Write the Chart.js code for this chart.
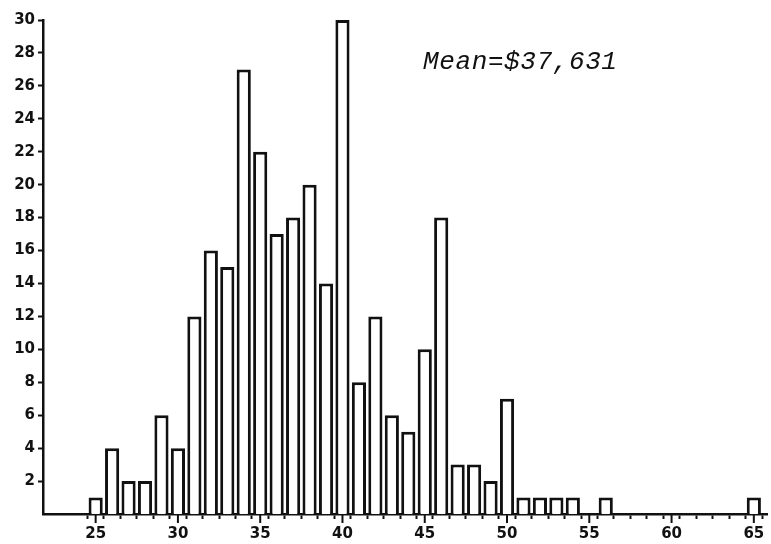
<!DOCTYPE html>
<html>
<head>
<meta charset="utf-8">
<script src="https://cdn.jsdelivr.net/npm/chart.js@4.4.1/dist/chart.umd.min.js"></script>
<style>
  html, body { margin: 0; padding: 0; background: #fff; }
  #wrap { width: 771px; height: 544px; position: relative; }
</style>
</head>
<body>
<div id="wrap"><canvas id="hist"></canvas></div>
<script>
// Salary bins (thousands of $) and number of people in each
const salaries = [25, 26, 27, 28, 29, 30, 31, 32, 33, 34, 35, 36, 37, 38, 39, 40,
                  41, 42, 43, 44, 45, 46, 47, 48, 49, 50, 51, 52, 53, 54, 56, 65];
const counts   = [1, 4, 2, 2, 6, 4, 12, 16, 15, 27, 22, 17, 18, 20, 14, 30,
                  8, 12, 6, 5, 10, 18, 3, 3, 2, 7, 1, 1, 1, 1, 1, 1];
const yTicks = [2, 4, 6, 8, 10, 12, 14, 16, 18, 20, 22, 24, 26, 28, 30];
const xLabels = [25, 30, 35, 40, 45, 50, 55, 60, 65];
const meanNote = { text: 'Mean=$37,631', x: 44.9, y: 27 };

const ink = '#111';
const tickFont = { family: 'DejaVu Sans', size: 15, weight: 'bold' };

// Longer marks under the labelled (every 5th) x ticks, plus the mean note
const extras = {
  id: 'extras',
  afterDraw(chart) {
    const { ctx, scales: { x, y } } = chart;
    ctx.save();
    ctx.strokeStyle = ink;
    ctx.lineWidth = 2;
    xLabels.forEach(v => {
      const px = x.getPixelForValue(v);
      ctx.beginPath();
      ctx.moveTo(px, y.bottom);
      ctx.lineTo(px, y.bottom + 9);
      ctx.stroke();
    });
    ctx.fillStyle = ink;
    ctx.font = 'italic 26px "Liberation Mono"';
    ctx.letterSpacing = '0.6px';
    ctx.textBaseline = 'alphabetic';
    ctx.fillText(meanNote.text, x.getPixelForValue(meanNote.x), y.getPixelForValue(meanNote.y));
    ctx.restore();
  }
};

new Chart(document.getElementById('hist'), {
  type: 'bar',
  data: {
    datasets: [{
      data: salaries.map((s, i) => ({ x: s, y: counts[i] })),
      backgroundColor: '#fff',
      borderColor: ink,
      borderWidth: 3,
      borderSkipped: 'start',
      barPercentage: 0.86,
      categoryPercentage: 1
    }]
  },
  options: {
    responsive: true,
    maintainAspectRatio: false,
    animation: false,
    layout: { padding: { top: 20, right: 4, left: 0, bottom: 0 } },
    plugins: { legend: { display: false }, tooltip: { enabled: false } },
    scales: {
      x: {
        type: 'linear',
        offset: false,
        min: 21.8,
        max: 65.8,
        afterFit: s => { s.height = 30; },
        afterBuildTicks: s => {
          s.ticks = [];
          for (let v = 25; v <= 65; v++) s.ticks.push({ value: v });
        },
        border: { display: true, color: ink, width: 2.5 },
        grid: { drawOnChartArea: false, drawTicks: true, tickLength: 5, tickColor: ink, tickWidth: 2 },
        ticks: {
          autoSkip: false,
          maxRotation: 0,
          padding: 6,
          color: ink,
          font: tickFont,
          callback: v => (xLabels.includes(v) ? String(v) : '')
        }
      },
      y: {
        min: 0,
        max: 30,
        afterFit: s => { s.width = 43; },
        afterBuildTicks: s => { s.ticks = yTicks.map(v => ({ value: v })); },
        border: { display: true, color: ink, width: 2.5 },
        grid: { drawOnChartArea: false, drawTicks: true, tickLength: 5, tickColor: ink, tickWidth: 2 },
        ticks: { padding: 3, color: ink, font: tickFont }
      }
    }
  },
  plugins: [extras]
});
</script>
</body>
</html>
